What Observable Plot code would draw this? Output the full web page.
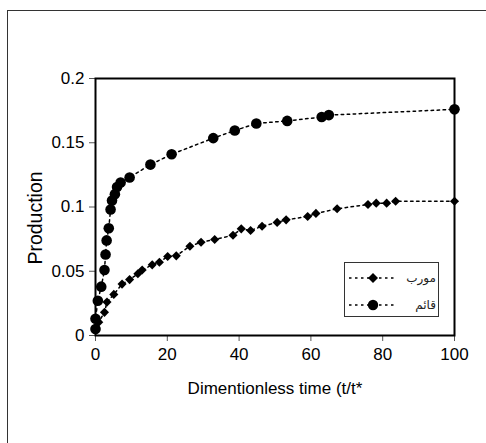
<!DOCTYPE html>
<html>
<head>
<meta charset="utf-8">
<script src="https://cdn.jsdelivr.net/npm/d3@7"></script>
<script src="https://cdn.jsdelivr.net/npm/@observablehq/plot@0.6"></script>
<style>
  body { margin: 0; background: #fff; }
  #wrap { position: relative; width: 486px; height: 443px; overflow: hidden; background: #fff; }
  #outer { position: absolute; left: 7px; top: 10px; width: 700px; height: 700px;
           border-left: 1.5px solid #333; border-top: 1.5px solid #333; pointer-events: none; }
  #chart { position: absolute; left: 0; top: 0; }
  #legend { position: absolute; left: 344px; top: 262px; }
</style>
</head>
<body>
<div id="wrap">
  <div id="outer"></div>
  <div id="chart"></div>
  <div id="legend"></div>
</div>
<script>
// Series: قائم (circles)
const circleX = [0, 0, 0.65, 1.6, 2.5, 2.8, 3.1, 3.7, 4.2, 4.6, 5.4, 6.0, 7.0, 9.5, 15.3, 21.2, 32.8, 38.8, 44.8, 53.4, 63.0, 65.0, 100];
const circleY = [0.005, 0.013, 0.027, 0.038, 0.051, 0.063, 0.074, 0.0835, 0.098, 0.105, 0.110, 0.1155, 0.119, 0.123, 0.133, 0.141, 0.1536, 0.1595, 0.165, 0.167, 0.170, 0.1715, 0.176];
// Series: مورب (diamonds)
const diamondX = [0, 0.9, 2.5, 3.2, 5.1, 7.4, 9.5, 11.8, 13.0, 15.8, 17.8, 20.1, 22.5, 26.3, 29.4, 33.2, 38.3, 40.6, 43.2, 46.4, 50.6, 53.1, 59.1, 61.4, 67.3, 75.9, 78.2, 81.1, 83.6, 100];
const diamondY = [0.005, 0.0104, 0.018, 0.026, 0.032, 0.040, 0.0435, 0.048, 0.051, 0.055, 0.057, 0.0615, 0.062, 0.0695, 0.0726, 0.0747, 0.078, 0.083, 0.0817, 0.085, 0.088, 0.090, 0.0926, 0.095, 0.0986, 0.102, 0.103, 0.103, 0.1045, 0.1045];

const seriesNames = ["مورب", "قائم"];
const xTicks = [0, 20, 40, 60, 80, 100];
const yTicks = [0, 0.05, 0.1, 0.15, 0.2];
const xLabel = "Dimentionless time (t/t*";
const yLabel = "Production";

const circles = circleX.map((x, i) => ({x, y: circleY[i]}));
const diamonds = diamondX.map((x, i) => ({x, y: diamondY[i]}));

const dash = "2.5,3.5";

const chart = Plot.plot({
  width: 486,
  height: 443,
  marginLeft: 95,
  marginRight: 32,
  marginTop: 78,
  marginBottom: 108,
  style: { fontFamily: "'Liberation Sans', Arial, sans-serif", fontSize: "17px", color: "#000", background: "transparent" },
  x: { domain: [0, 100] },
  y: { domain: [0, 0.2] },
  marks: [
    Plot.axisX({ ticks: xTicks, tickSize: 6, tickPadding: 6, tickFormat: d => String(d),
      label: xLabel, labelAnchor: "center", labelOffset: 58, labelArrow: "none", stroke: "#555" }),
    Plot.axisY({ ticks: yTicks, tickSize: 6, tickPadding: 5, tickFormat: d => String(d),
      label: null, stroke: "#555" }),
    Plot.text([yLabel], { frameAnchor: "left", text: d => d, rotate: -90, dx: -60, dy: 11,
      textAnchor: "middle", fontSize: 19.5, fill: "#000" }),
    Plot.frame({ stroke: "#000", strokeWidth: 2 }),
    Plot.line(diamonds, { x: "x", y: "y", stroke: "#000", strokeWidth: 1.5, strokeDasharray: dash }),
    Plot.line(circles, { x: "x", y: "y", stroke: "#000", strokeWidth: 1.5, strokeDasharray: dash }),
    Plot.dot(diamonds, { x: "x", y: "y", symbol: "diamond2", r: 4.1, fill: "#000", stroke: "none" }),
    Plot.dot(circles, { x: "x", y: "y", symbol: "circle", r: 5.3, fill: "#000", stroke: "none" })
  ]
});
document.getElementById("chart").appendChild(chart);

// Legend
const lw = 95, lh = 55;
const leg = d3.select("#legend").append("svg").attr("width", lw).attr("height", lh);
leg.append("rect").attr("x", 0.5).attr("y", 0.5).attr("width", lw - 1).attr("height", lh - 1)
  .attr("fill", "#fff").attr("stroke", "#333").attr("stroke-width", 1);
const symbols = [d3.symbol(d3.symbolSquare, 50), d3.symbol(d3.symbolCircle, 85)];
seriesNames.forEach((name, i) => {
  const cy = 16 + i * 27;
  leg.append("line").attr("x1", 5).attr("x2", 50).attr("y1", cy).attr("y2", cy)
    .attr("stroke", "#000").attr("stroke-width", 1.5).attr("stroke-dasharray", dash);
  leg.append("path").attr("d", symbols[i]()).attr("fill", "#000")
    .attr("transform", `translate(29,${cy})` + (i === 0 ? " rotate(45)" : ""));
  leg.append("text").attr("x", 92).attr("y", cy + 4).attr("text-anchor", "end")
    .attr("font-family", "'DejaVu Sans', sans-serif").attr("font-size", 12).attr("fill", "#222")
    .text(name);
});
</script>
</body>
</html>
